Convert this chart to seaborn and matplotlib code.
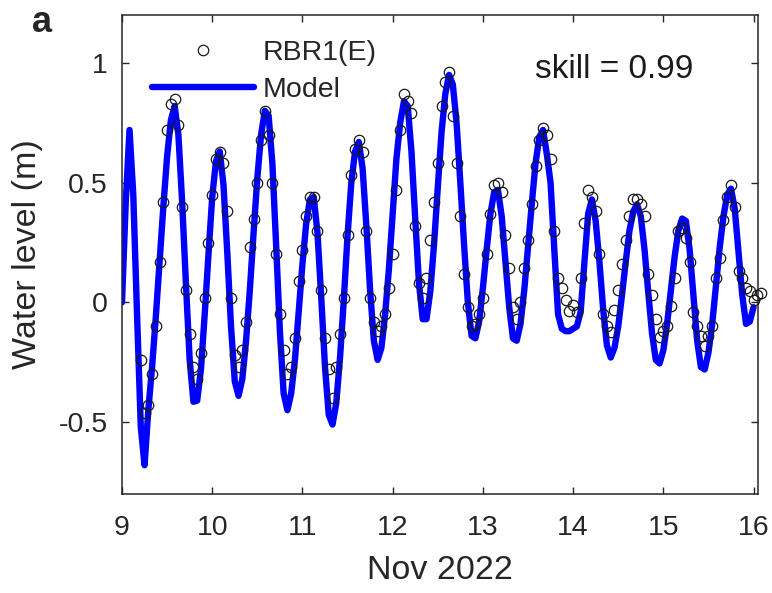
import pandas as pd
import matplotlib
matplotlib.use("Agg")
import matplotlib.pyplot as plt
import seaborn as sns

# hourly model output, starting 9 Nov 2022 00:00
model_level = [
    0.00, 0.42, 0.72, 0.45, -0.05, -0.52, -0.68, -0.45, -0.27, -0.06,
    0.17, 0.40, 0.61, 0.76, 0.82, 0.70, 0.42, 0.08, -0.24, -0.415,
    -0.41, -0.28, -0.05, 0.20, 0.44, 0.59, 0.63, 0.49, 0.21, -0.10,
    -0.33, -0.39, -0.32, -0.16, 0.05, 0.29, 0.52, 0.70, 0.80, 0.78,
    0.58, 0.24, -0.12, -0.38, -0.45, -0.38, -0.24, -0.04, 0.16, 0.33,
    0.43, 0.44, 0.29, 0.02, -0.27, -0.47, -0.51, -0.42, -0.23, 0.01,
    0.28, 0.50, 0.63, 0.67, 0.56, 0.32, 0.05, -0.16, -0.24, -0.19,
    -0.05, 0.14, 0.37, 0.60, 0.75, 0.84, 0.82, 0.63, 0.35, 0.08,
    -0.07, -0.07, 0.045, 0.24, 0.48, 0.71, 0.87, 0.95, 0.91, 0.75,
    0.50, 0.24, 0.00, -0.14, -0.15, -0.08, 0.06, 0.22, 0.37, 0.46,
    0.47, 0.36, 0.17, -0.02, -0.15, -0.16, -0.09, 0.05, 0.23, 0.41,
    0.58, 0.69, 0.72, 0.62, 0.50, 0.22, -0.05, -0.11, -0.12, -0.12,
    -0.11, -0.10, -0.04, 0.165, 0.37, 0.43, 0.34, 0.17, -0.03, -0.18,
    -0.23, -0.19, -0.10, 0.03, 0.17, 0.30, 0.38, 0.41, 0.36, 0.22,
    0.04, -0.13, -0.24, -0.255, -0.20, -0.09, 0.05, 0.19, 0.30, 0.35,
    0.34, 0.22, 0.03, -0.16, -0.27, -0.28, -0.21, -0.09, 0.07, 0.23,
    0.36, 0.45, 0.475, 0.39, 0.21, 0.03, -0.09, -0.08, -0.02,
]

# hourly RBR1(E) observations, starting 9 Nov 2022 05:00
obs_level = [
    -0.24, -0.46, -0.43, -0.30, -0.10, 0.17, 0.42, 0.72, 0.83, 0.85,
    0.74, 0.40, 0.05, -0.13, -0.27, -0.32, -0.21, 0.02, 0.25, 0.45,
    0.60, 0.63, 0.58, 0.38, 0.02, -0.22, -0.27, -0.20, -0.08, 0.23,
    0.35, 0.50, 0.68, 0.80, 0.70, 0.50, 0.20, -0.05, -0.20, -0.30,
    -0.27, -0.15, 0.09, 0.22, 0.36, 0.44, 0.44, 0.30, 0.05, -0.15,
    -0.28, -0.40, -0.27, -0.13, 0.02, 0.28, 0.53, 0.64, 0.68, 0.63,
    0.30, 0.02, -0.08, -0.12, -0.10, -0.05, 0.06, 0.20, 0.47, 0.72,
    0.87, 0.84, 0.79, 0.32, 0.08, 0.02, 0.10, 0.26, 0.42, 0.58,
    0.82, 0.92, 0.96, 0.78, 0.58, 0.36, 0.12, -0.02, -0.10, -0.09,
    -0.05, 0.02, 0.20, 0.37, 0.49, 0.50, 0.46, 0.28, 0.145, -0.02,
    -0.07, 0.00, 0.145, 0.26, 0.41, 0.57, 0.68, 0.73, 0.70, 0.60,
    0.30, 0.10, 0.06, 0.01, -0.035, -0.01, -0.04, 0.10, 0.33, 0.47,
    0.44, 0.38, 0.20, -0.05, -0.10, -0.125, -0.03, 0.05, 0.16, 0.26,
    0.36, 0.43, 0.43, 0.41, 0.36, 0.12, 0.03, -0.07, -0.145, -0.12,
    -0.10, -0.015, 0.10, 0.30, 0.31, 0.27, 0.17, -0.04, -0.10, -0.14,
    -0.18, -0.14, -0.10, 0.10, 0.185, 0.345, 0.44, 0.49, 0.40, 0.13,
    0.10, 0.06, 0.047, 0.01, 0.03, 0.04,
]

day_ticks = pd.date_range("2022-11-09", "2022-11-16", freq="D")
day_labels = ["9", "10", "11", "12", "13", "14", "15", "16"]
y_ticks = [-0.5, 0, 0.5, 1]
y_labels = ["-0.5", "0", "0.5", "1"]
skill = 0.99

model_df = pd.DataFrame({
    "time": pd.date_range("2022-11-09 00:00", periods=len(model_level), freq="h"),
    "level": model_level,
})
obs_df = pd.DataFrame({
    "time": pd.date_range("2022-11-09 05:00", periods=len(obs_level), freq="h"),
    "level": obs_level,
})

sns.set_theme(style="ticks")
plt.rcParams["font.family"] = ["Liberation Sans", "DejaVu Sans"]
plt.rcParams["axes.unicode_minus"] = False

ink = "#262626"
fig = plt.figure(figsize=(7.72, 5.93), dpi=100)
ax = fig.add_axes([122 / 772, 99 / 593, 635.5 / 772, 479 / 593])

sns.lineplot(data=obs_df, x="time", y="level", ax=ax, estimator=None, sort=False,
             linestyle="none", marker="o", markersize=7.5, color="k",
             markerfacecolor="none", markeredgecolor="k", markeredgewidth=0.9,
             label="RBR1(E)", zorder=3, clip_on=False)
sns.lineplot(data=model_df, x="time", y="level", ax=ax, estimator=None, sort=False,
             color="blue", linewidth=4.6, label="Model", zorder=2)

ax.set_xlim(pd.Timestamp("2022-11-09 00:00"), pd.Timestamp("2022-11-16 01:03"))
ax.set_ylim(-0.8, 1.2)
ax.set_xticks(day_ticks)
ax.set_xticklabels(day_labels)
ax.set_yticks(y_ticks)
ax.set_yticklabels(y_labels)

ax.tick_params(direction="in", top=True, right=True, length=5, width=1,
               labelsize=20.5, colors=ink)
ax.tick_params(axis="x", pad=15)
ax.tick_params(axis="y", pad=10)
for sp in ax.spines.values():
    sp.set_visible(True)
    sp.set_color(ink)
    sp.set_linewidth(1.1)

ax.set_xlabel("Nov 2022", fontsize=24.5, color=ink)
ax.set_ylabel("Water level (m)", fontsize=24.5, color=ink)
ax.xaxis.set_label_coords(0.5, -0.127)
ax.yaxis.set_label_coords(-0.125, 0.5)

ax.legend(loc="upper left", bbox_to_anchor=(0.0472, 0.948), frameon=False,
          handlelength=3.58, handletextpad=0.32, labelspacing=0.4,
          borderpad=0, borderaxespad=0, fontsize=20.5)

ax.text(0.65, 0.868, f"skill = {skill:.2f}", transform=ax.transAxes,
        ha="left", va="baseline", fontsize=24, color="k")
fig.text(0.041, 0.946, "a", ha="left", va="baseline", fontsize=26, fontweight="bold")

fig.savefig("out.png", dpi=100)
